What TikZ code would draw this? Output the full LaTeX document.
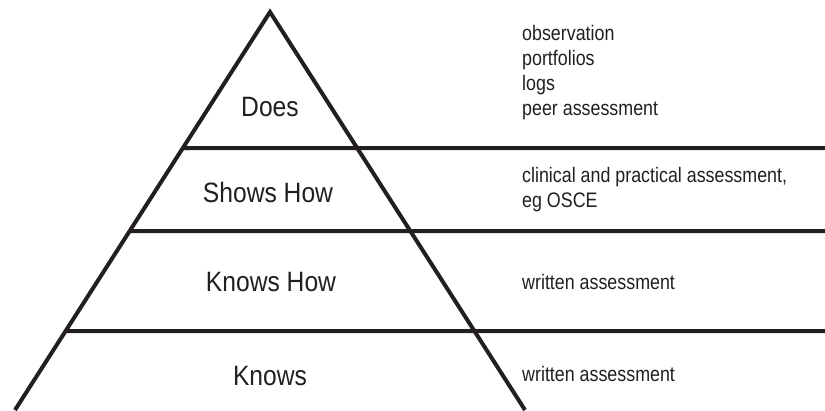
\documentclass[tikz,border=0pt]{standalone}
\usepackage{fontspec}
\usepackage{tikz}
\usetikzlibrary{calc}
\newfontfamily\tierfont{Liberation Sans}[FakeStretch=0.88]
\newfontfamily\notefont{Liberation Sans}[FakeStretch=0.85]
\definecolor{ink}{HTML}{231F20}

\begin{document}
\begin{tikzpicture}[x=1pt,y=-1pt,
	tierline/.style={draw=ink, line width=4pt},
	tierlabel/.style={text=ink, inner sep=0pt, font=\tierfont\fontsize{28}{30}\selectfont},
	notelabel/.style={text=ink, inner sep=0pt, anchor=west, align=left, font=\notefont\fontsize{21}{25}\selectfont}]
	\useasboundingbox (0,0) rectangle (825,410);
	\coordinate (apex) at (270,12);
	\coordinate (bl) at (15,410);
	\coordinate (br) at (525,410);
	\draw [tierline, line join=miter] (bl) -- (apex) -- (br);
	\draw [tierline] ($(apex)!0.3417!(bl)$) -- (825,148);
	\draw [tierline] ($(apex)!0.5503!(bl)$) -- (825,231);
	\draw [tierline] ($(apex)!0.8015!(bl)$) -- (825,331);
	\node [tierlabel] (does) at (270,107) {Does};
	\node [tierlabel] (shows) at (268,192) {Shows How};
	\node [tierlabel] (knowshow) at (271,282) {Knows How};
	\node [tierlabel] (knows) at (270,376) {Knows};
	\node [notelabel] (doesnote) at (522,73) {observation\\portfolios\\logs\\peer assessment};
	\node [notelabel] (showsnote) at (522,190) {clinical and practical assessment,\\eg OSCE};
	\node [notelabel] (knowshownote) at (522,282) {written assessment};
	\node [notelabel] (knowsnote) at (522,374) {written assessment};
\end{tikzpicture}
\end{document}
